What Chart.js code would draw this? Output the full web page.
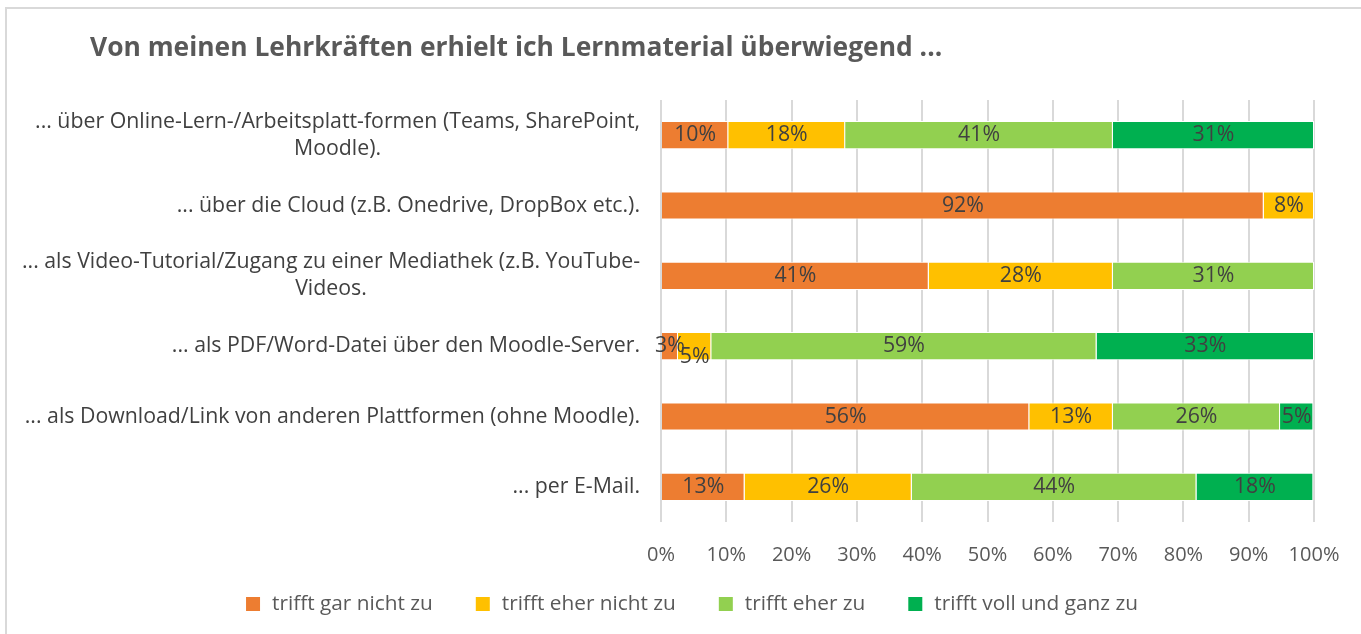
<!DOCTYPE html>
<html lang="de">
<head>
<meta charset="UTF-8">
<title>Lernmaterial</title>
<script src="https://cdn.jsdelivr.net/npm/chart.js"></script>
<style>
    body { margin: 0; background: #fff; }
    #wrap { position: relative; width: 1361px; height: 634px; }
    #frame {
        position: absolute; left: 5px; top: 7px; right: -2px; bottom: -2px;
        border-left: 2px solid #d9d9d9; border-top: 2px solid #d9d9d9;
        pointer-events: none;
    }
</style>
</head>
<body>
<div id="wrap">
    <canvas id="chart" width="1361" height="634"></canvas>
    <div id="frame"></div>
</div>
<script>
    const title = 'Von meinen Lehrkräften erhielt ich Lernmaterial überwiegend ...';

    const categories = [
        ['... über Online-Lern-/Arbeitsplatt-formen (Teams, SharePoint,', 'Moodle).'],
        ['... über die Cloud (z.B. Onedrive, DropBox etc.).'],
        ['... als Video-Tutorial/Zugang zu einer Mediathek (z.B. YouTube-', 'Videos.'],
        ['... als PDF/Word-Datei über den Moodle-Server.'],
        ['... als Download/Link von anderen Plattformen (ohne Moodle).'],
        ['... per E-Mail.']
    ];

    const seriesNames = ['trifft gar nicht zu', 'trifft eher nicht zu', 'trifft eher zu', 'trifft voll und ganz zu'];
    const seriesColors = ['#ED7D31', '#FFC000', '#92D050', '#00B050'];

    // percent of answers per row
    const garNicht  = [10.3, 92.3, 41.0, 2.6, 56.4, 12.8];
    const eherNicht = [17.9, 7.7, 28.2, 5.1, 12.8, 25.6];
    const eherZu    = [41.0, 0, 30.8, 59.0, 25.6, 43.6];
    const vollZu    = [30.8, 0, 0, 33.3, 5.1, 17.9];

    const xTicks = [0, 10, 20, 30, 40, 50, 60, 70, 80, 90, 100];

    const font = '"Open Sans", sans-serif';

    // title, wrapped category labels, value labels and legend
    const textPlugin = {
        id: 'texts',
        afterDatasetsDraw(chart) {
            const ctx = chart.ctx;
            const y = chart.scales.y;
            ctx.save();

            ctx.fillStyle = '#595959';
            ctx.font = 'bold 26.4px ' + font;
            ctx.textAlign = 'left';
            ctx.textBaseline = 'middle';
            ctx.fillText(title, 90, 48);

            ctx.font = '21.3px ' + font;
            ctx.fillStyle = '#404040';
            categories.forEach((lines, i) => {
                const cy = y.getPixelForValue(i);
                const w = Math.max(...lines.map(l => ctx.measureText(l).width));
                const cx = 640 - w / 2;
                ctx.textAlign = 'center';
                lines.forEach((l, k) => {
                    ctx.fillText(l, cx, cy + (k - (lines.length - 1) / 2) * 27);
                });
            });

            ctx.font = '21.3px ' + font;
            ctx.textAlign = 'center';
            categories.forEach((c, i) => {
                let prevRight = -Infinity;
                chart.data.datasets.forEach((ds, d) => {
                    const v = ds.data[i];
                    if (!v) return;
                    const bar = chart.getDatasetMeta(d).data[i];
                    const txt = Math.round(v) + '%';
                    const tw = ctx.measureText(txt).width;
                    const x = (bar.x + bar.base) / 2;
                    let ty = bar.y;
                    if (x - tw / 2 < prevRight) ty += 11;
                    ctx.fillText(txt, x, ty);
                    prevRight = x + tw / 2;
                });
            });

            // legend
            ctx.font = '20.8px ' + font;
            ctx.textAlign = 'left';
            const box = 14, gap = 12, space = 43, ly = 604;
            const widths = seriesNames.map(n => ctx.measureText(n).width);
            const total = widths.reduce((a, w) => a + box + gap + w, 0) + space * (seriesNames.length - 1);
            let lx = 692 - total / 2;
            seriesNames.forEach((n, i) => {
                ctx.fillStyle = seriesColors[i];
                ctx.fillRect(lx, ly - box / 2, box, box);
                ctx.fillStyle = '#595959';
                ctx.fillText(n, lx + box + gap, ly);
                lx += box + gap + widths[i] + space;
            });
            ctx.restore();
        }
    };

    const allSeries = [garNicht, eherNicht, eherZu, vollZu];

    new Chart(document.getElementById('chart'), {
        type: 'bar',
        data: {
            labels: categories.map(c => c.join(' ')),
            datasets: allSeries.map((data, i) => ({
                label: seriesNames[i],
                data: data,
                backgroundColor: seriesColors[i],
                borderColor: '#ffffff',
                borderWidth: 1,
                categoryPercentage: 0.4,
                barPercentage: 1
            }))
        },
        options: {
            indexAxis: 'y',
            responsive: false,
            animation: false,
            layout: { padding: { top: 100, right: 47, bottom: 46 } },
            scales: {
                x: {
                    stacked: true,
                    min: 0,
                    max: 100,
                    afterBuildTicks: s => { s.ticks = xTicks.map(v => ({ value: v })); },
                    ticks: {
                        callback: v => v + '%',
                        color: '#595959',
                        font: { family: font, size: 20 },
                        padding: 21
                    },
                    grid: { color: '#d9d9d9', lineWidth: 2, drawTicks: false },
                    border: { display: false }
                },
                y: {
                    stacked: true,
                    ticks: { display: false },
                    grid: { display: false },
                    border: { display: false },
                    afterFit: s => { s.width = 661; }
                }
            },
            plugins: {
                legend: { display: false },
                tooltip: { enabled: false }
            }
        },
        plugins: [textPlugin]
    });
</script>
</body>
</html>
